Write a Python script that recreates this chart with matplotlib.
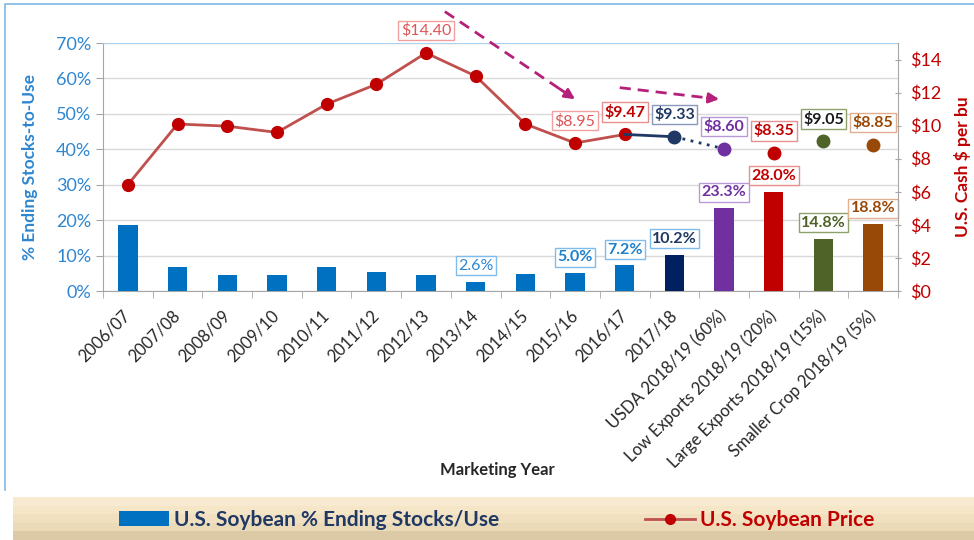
import numpy as np
import matplotlib.pyplot as plt
from matplotlib.patches import Rectangle
from matplotlib.lines import Line2D

plt.rcParams['font.family'] = ['Lato', 'DejaVu Sans']

# Data
years = ['2006/07', '2007/08', '2008/09', '2009/10', '2010/11', '2011/12', '2012/13',
         '2013/14', '2014/15', '2015/16', '2016/17', '2017/18', 'USDA 2018/19 (60%)',
         'Low Exports 2018/19 (20%)', 'Large Exports 2018/19 (15%)', 'Smaller Crop 2018/19 (5%)']
stocks_use = [18.6, 6.7, 4.5, 4.5, 6.7, 5.3, 4.5, 2.6, 4.9, 5.0, 7.2, 10.2, 23.3, 28.0, 14.8, 18.8]
price = [6.43, 10.10, 9.97, 9.59, 11.30, 12.50, 14.40, 13.00, 10.10, 8.95, 9.47, 9.33,
         8.60, 8.35, 9.05, 8.85]
bar_colors = ['#0070C0'] * 11 + ['#002060', '#7030A0', '#C00000', '#4F6228', '#984807']

# labelled points: index -> (text colour, border colour, bold)
price_labels = {6: ('#E05555', '#F0A0A0', False), 9: ('#E05555', '#F0A0A0', False),
                10: ('#C00000', '#E89090', True), 11: ('#1F3864', '#8899BB', True),
                12: ('#7030A0', '#B89AD8', True), 13: ('#C00000', '#E89090', True),
                14: ('#1A1A1A', '#8FA06A', True), 15: ('#984807', '#E0B090', True)}
pct_labels = {7: ('#2E86D0', '#7FBCEB', False), 9: ('#1F7FC8', '#7FBCEB', True),
              10: ('#1F7FC8', '#7FBCEB', True), 11: ('#1F3864', '#7FBCEB', True),
              12: ('#7030A0', '#B89AD8', True), 13: ('#C00000', '#E89090', True),
              14: ('#4F6228', '#8FA06A', True), 15: ('#984807', '#E0B090', True)}

# trend arrows (category index, price)
arrow1 = [(6.38, 16.9), (9.0, 11.6)]
arrow2 = [(9.9, 12.3), (11.9, 11.6)]

fig = plt.figure(figsize=(9.74, 5.4), dpi=100)
# chart frame (left and top edges) and legend band
fig.add_artist(Line2D([5 / 974, 5 / 974, 1], [50 / 540, 536 / 540, 536 / 540],
                      transform=fig.transFigure, color='#7FB8E6', lw=1.2))
band = ['#F7EAD0', '#F5E6C8', '#F1E0C0', '#EADAB8', '#DCCAA6']
for k, c in enumerate(band):
    fig.patches.append(Rectangle((13 / 974, (len(band) - 1 - k) * 43 / 540 / len(band)), 1,
                                 43 / 540 / len(band), transform=fig.transFigure,
                                 fc=c, ec='none'))

ax = fig.add_axes([103 / 974, 249 / 540, 795 / 974, 248 / 540])
x = np.arange(len(years))

ax.bar(x, stocks_use, width=0.39, color=bar_colors, zorder=3)
ax.set_ylim(0, 70)
ax.set_xlim(-0.5, len(years) - 0.5)
ax.set_yticks(range(0, 71, 10))
ax.set_yticklabels([f'{v}%' for v in range(0, 71, 10)], color='#2E86D0', fontsize=13)
ax.grid(axis='y', color='#D9D9D9', lw=1, zorder=0)
ax.set_xticks(x)
ax.set_xticklabels(years, rotation=45, ha='right', va='center', rotation_mode='anchor',
                   fontsize=12, color='#262626')
ax.set_xticks(np.arange(-0.5, len(years), 1), minor=True)
ax.tick_params(axis='x', which='major', length=0, pad=16)
ax.tick_params(axis='x', which='minor', length=5, color='#A6A6A6')
ax.tick_params(axis='y', length=5, color='#A6A6A6')
for s in ['left', 'bottom']:
    ax.spines[s].set_color('#A6A6A6')
ax.spines['top'].set_color('#A9D1F0')
ax.spines['right'].set_visible(False)
ax.set_ylabel('% Ending Stocks-to-Use', color='#2E86D0', fontsize=12.5,
              fontweight='bold', labelpad=13)
fig.text(497 / 974, 1 - 470 / 540, 'Marketing Year', fontsize=12, fontweight='bold',
         color='#262626', ha='center', va='center')

for i, (tc, ec, bold) in pct_labels.items():
    ax.annotate(f'{stocks_use[i]:.1f}%', (x[i], stocks_use[i]), xytext=(0, 11.5),
                textcoords='offset points', ha='center', va='center', color=tc,
                fontsize=11.5, fontweight='bold' if bold else 'normal', zorder=5,
                bbox=dict(boxstyle='square,pad=0.15', fc='white', ec=ec, lw=1))

ax2 = ax.twinx()
ax2.set_ylim(0, 15)
ax2.set_yticks(range(0, 15, 2))
ax2.set_yticklabels([f'${v}' for v in range(0, 15, 2)], color='#C00000', fontsize=13)
ax2.tick_params(axis='y', length=5, color='#A6A6A6', direction='inout', pad=6)
for s in ['left', 'top', 'bottom']:
    ax2.spines[s].set_visible(False)
ax2.spines['right'].set_color('#A6A6A6')
ax2.set_ylabel('U.S. Cash $ per bu', color='#C00000', fontsize=12.5, fontweight='bold',
               labelpad=9)

ax2.plot(x[:11], price[:11], color='#C0504D', lw=2, marker='o', ms=8.5,
         mfc='#C00000', mec='#C00000', zorder=4)
ax2.plot(x[10:12], price[10:12], color='#1F3864', lw=2, zorder=4)
ax2.plot(x[11:13], price[11:13], color='#1F3864', lw=2, ls=(0, (1, 2)), zorder=4)
for i in range(11, 16):
    ax2.plot(x[i], price[i], 'o', ms=9, color=bar_colors[i] if i > 11 else '#1F3864', zorder=5)

for i, (tc, ec, bold) in price_labels.items():
    ax2.annotate(f'${price[i]:.2f}', (x[i], price[i]), xytext=(0, 16),
                 textcoords='offset points', ha='center', va='center', color=tc,
                 fontsize=11.5, fontweight='bold' if bold else 'normal', zorder=6,
                 annotation_clip=False,
                 bbox=dict(boxstyle='square,pad=0.15', fc='white', ec=ec, lw=1))

for (x0, y0), (x1, y1) in [arrow1, arrow2]:
    ax2.plot([x0, x0 + (x1 - x0) * 0.92], [y0, y0 + (y1 - y0) * 0.92], color='#B5207A',
             lw=2, ls=(0, (4, 2.5)), clip_on=False, zorder=6)
    ax2.annotate('', (x1, y1), xytext=(x0 + (x1 - x0) * 0.88, y0 + (y1 - y0) * 0.88),
                 annotation_clip=False,
                 arrowprops=dict(arrowstyle='-|>,head_length=0.6,head_width=0.3',
                                 color='#B5207A', lw=2, shrinkA=0, shrinkB=0))

handles = [Rectangle((0, 0), 1, 1, fc='#0070C0'),
           Line2D([0], [0], color='#C0504D', lw=2, marker='o', ms=7, mfc='#C00000', mec='#C00000')]
leg = fig.legend(handles, ['U.S. Soybean % Ending Stocks/Use', 'U.S. Soybean Price'],
                 loc='center', bbox_to_anchor=(0.51, 20 / 540), ncol=2, frameon=False,
                 columnspacing=7, handlelength=2.4, handletextpad=0.25,
                 prop=dict(size=15, weight='bold'))
leg.get_texts()[0].set_color('#1F3864')
leg.get_texts()[1].set_color('#C00000')

fig.savefig('out.png', dpi=100)
